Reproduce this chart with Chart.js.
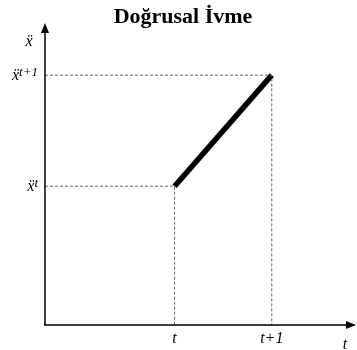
<!DOCTYPE html>
<html>
<head>
    <meta charset="UTF-8">
    <title>Doğrusal İvme</title>
    <script src="https://cdn.jsdelivr.net/npm/chart.js"></script>
    <style>
        body { margin: 0; background: #fff; }
    </style>
</head>
<body>
    <canvas id="myChart" width="357" height="350"></canvas>

    <script>
        // time positions (t, t+1) and accelerations at those times
        const timePoints = [4, 7];
        const timeLabels = ['t', 't+1'];
        const accelValues = [5, 9];
        const accelSups = ['t', 't+1'];
        const axisMax = { x: 9.6, y: 10.88 };

        const serif = '"Liberation Serif", "DejaVu Serif", serif';
        const xdd = 'x\u0308';

        // dashed helper lines from each point back to the axes
        const guides = timePoints.map((t, i) => ({
            data: [{ x: 0, y: accelValues[i] }, { x: t, y: accelValues[i] }, { x: t, y: 0 }],
            borderColor: '#666',
            borderWidth: 1,
            borderDash: [3, 2],
            pointRadius: 0,
            fill: false
        }));

        const axesPlugin = {
            id: 'axesPlugin',
            afterDraw(chart) {
                const ctx = chart.ctx;
                const xs = chart.scales.x, ys = chart.scales.y;
                const x0 = xs.getPixelForValue(0), y0 = ys.getPixelForValue(0);
                const xEnd = xs.getPixelForValue(axisMax.x), yEnd = ys.getPixelForValue(axisMax.y);
                ctx.save();
                ctx.strokeStyle = '#000';
                ctx.fillStyle = '#000';
                ctx.lineWidth = 1.5;
                ctx.beginPath();
                ctx.moveTo(x0, y0); ctx.lineTo(x0, yEnd + 8);
                ctx.moveTo(x0 - 1, y0); ctx.lineTo(xEnd - 8, y0);
                ctx.stroke();
                // arrow heads
                ctx.beginPath();
                ctx.moveTo(x0, yEnd); ctx.lineTo(x0 - 4, yEnd + 10); ctx.lineTo(x0 + 4, yEnd + 10);
                ctx.closePath(); ctx.fill();
                ctx.beginPath();
                ctx.moveTo(xEnd, y0); ctx.lineTo(xEnd - 10, y0 - 4); ctx.lineTo(xEnd - 10, y0 + 4);
                ctx.closePath(); ctx.fill();

                // x tick labels
                ctx.font = 'italic 16px ' + serif;
                ctx.textAlign = 'center';
                ctx.textBaseline = 'middle';
                timePoints.forEach((t, i) => {
                    ctx.fillText(timeLabels[i], xs.getPixelForValue(t), y0 + 14);
                });
                ctx.fillText('t', xEnd - 11, y0 + 20);

                // y tick labels, with superscripts
                accelValues.forEach((v, i) => {
                    const py = ys.getPixelForValue(v);
                    ctx.font = 'italic 13px ' + serif;
                    const supW = ctx.measureText(accelSups[i]).width;
                    ctx.textAlign = 'right';
                    ctx.fillText(accelSups[i], x0 - 7, py - 3);
                    ctx.font = 'italic 16px ' + serif;
                    ctx.fillText(xdd, x0 - 7 - supW, py + 1);
                });
                ctx.font = 'italic 16px ' + serif;
                ctx.textAlign = 'center';
                ctx.fillText(xdd, x0 - 16, yEnd + 19);
                ctx.restore();
            }
        };

        const ctx = document.getElementById('myChart').getContext('2d');
        new Chart(ctx, {
            type: 'scatter',
            data: {
                datasets: [
                    ...guides,
                    {
                        data: timePoints.map((t, i) => ({ x: t, y: accelValues[i] })),
                        borderColor: '#000',
                        borderWidth: 5.5,
                        pointRadius: 0,
                        showLine: true,
                        fill: false
                    }
                ]
            },
            options: {
                responsive: false,
                animation: false,
                showLine: true,
                layout: { padding: { left: 10, right: 1, top: 0, bottom: 25 } },
                scales: {
                    x: { type: 'linear', min: 0, max: axisMax.x, display: false },
                    y: {
                        type: 'linear', min: 0, max: axisMax.y,
                        grid: { display: false },
                        border: { display: false },
                        ticks: { display: false },
                        afterFit: (scale) => { scale.width = 35; }
                    }
                },
                plugins: {
                    legend: { display: false },
                    tooltip: { enabled: false },
                    title: {
                        display: true,
                        text: 'Doğrusal İvme',
                        color: '#000',
                        padding: { top: 4, bottom: -7.4 },
                        font: { family: serif, size: 22, weight: 'bold' }
                    }
                }
            },
            plugins: [axesPlugin]
        });
    </script>
</body>
</html>
